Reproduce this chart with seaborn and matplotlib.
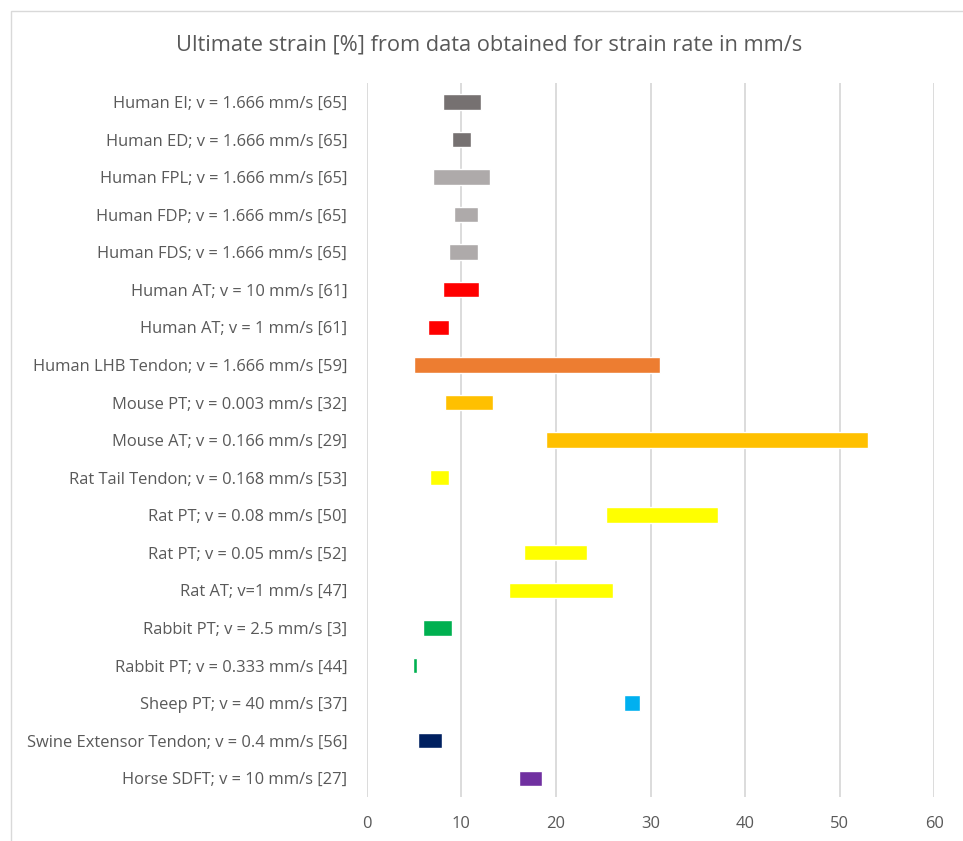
import matplotlib
matplotlib.use('Agg')
import matplotlib.pyplot as plt
import seaborn as sns
import pandas as pd

# Tendon samples, top to bottom as in the chart
labels = [
    'Human EI; v = 1.666 mm/s [65]',
    'Human ED; v = 1.666 mm/s [65]',
    'Human FPL; v = 1.666 mm/s [65]',
    'Human FDP; v = 1.666 mm/s [65]',
    'Human FDS; v = 1.666 mm/s [65]',
    'Human AT; v = 10 mm/s [61]',
    'Human AT; v = 1 mm/s [61]',
    'Human LHB Tendon; v = 1.666 mm/s [59]',
    'Mouse PT; v = 0.003 mm/s [32]',
    'Mouse AT; v = 0.166 mm/s [29]',
    'Rat Tail Tendon; v = 0.168 mm/s [53]',
    'Rat PT; v = 0.08 mm/s [50]',
    'Rat PT; v = 0.05 mm/s [52]',
    'Rat AT; v=1 mm/s [47]',
    'Rabbit PT; v = 2.5 mm/s [3]',
    'Rabbit PT; v = 0.333 mm/s [44]',
    'Sheep PT; v = 40 mm/s [37]',
    'Swine Extensor Tendon; v = 0.4 mm/s [56]',
    'Horse SDFT; v = 10 mm/s [27]',
]
strain_min = [8.1, 9.0, 7.0, 9.2, 8.7, 8.1, 6.5, 5.0, 8.3, 19.0,
              6.7, 25.3, 16.6, 15.0, 6.0, 4.9, 27.2, 5.4, 16.1]
strain_max = [12.1, 11.0, 13.0, 11.8, 11.8, 11.9, 8.7, 31.0, 13.3, 53.0,
              8.7, 37.1, 23.3, 26.0, 9.0, 5.3, 28.9, 8.0, 18.5]
colors = ['#767171', '#767171', '#aeaaaa', '#aeaaaa', '#aeaaaa', '#ff0000',
          '#ff0000', '#ed7d31', '#ffc000', '#ffc000', '#ffff00', '#ffff00',
          '#ffff00', '#ffff00', '#00b050', '#00b050', '#00b0f0', '#002060',
          '#7030a0']

df = pd.DataFrame({'label': labels, 'lo': strain_min, 'hi': strain_max})
df['span'] = df['hi'] - df['lo']

sns.set_theme(style='white')
plt.rcParams['font.family'] = ['Open Sans', 'DejaVu Sans']

fig = plt.figure(figsize=(9.63, 8.41), dpi=100)
ax = fig.add_axes([0.3808, 0.0523, 0.5894, 0.849])

# Floating bars: span of ultimate strain starting at the minimum value
ax.barh(df['label'], df['span'], left=df['lo'], height=0.41,
        color=colors, zorder=3)

ax.set_xlim(0, 60)
ax.set_ylim(len(labels) - 0.5, -0.5)
ax.set_xticks(range(0, 61, 10))
ax.grid(axis='x', color='#d9d9d9', linewidth=1.3, zorder=0)
ax.grid(axis='y', visible=False)
sns.despine(ax=ax, left=True, bottom=True)
ax.tick_params(axis='both', length=0, labelsize=11.9, colors='#595959')
ax.tick_params(axis='y', pad=14)
ax.tick_params(axis='x', pad=14)
ax.set_xlabel('')
ax.set_ylabel('')

fig.text(0.5083, 0.947, 'Ultimate strain [%] from data obtained for strain rate in mm/s',
         ha='center', va='center', fontsize=15.7, color='#595959')

# Chart border like the spreadsheet frame
fig.patches.append(plt.Rectangle((11 / 963, -0.1), 1.2, 1.1 - 11 / 841,
                                 transform=fig.transFigure, fill=False,
                                 edgecolor='#d9d9d9', linewidth=1.0))

fig.savefig('out.png', dpi=100)
